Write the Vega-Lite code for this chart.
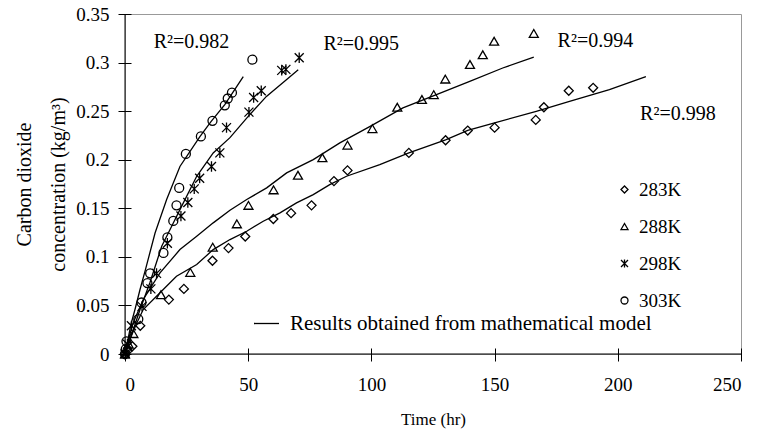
{
  "$schema": "https://vega.github.io/schema/vega-lite/v6.json",
  "width": 616,
  "height": 340,
  "autosize": {"type": "none"},
  "padding": {"left": 125, "top": 14, "right": 17, "bottom": 80},
  "background": "white",
  "config": {
    "font": "Liberation Serif",
    "view": {"stroke": "#999999", "strokeWidth": 1},
    "axis": {
      "grid": false, "domain": false, "tickColor": "black", "tickWidth": 1,
      "labelColor": "black", "titleColor": "black",
      "labelFont": "Liberation Serif", "titleFont": "Liberation Serif",
      "labelFontSize": 19, "titleFontSize": 17, "titleFontWeight": "normal",
      "tickSize": 13, "offset": -6
    },
    "legend": {"labelFont": "Liberation Serif", "labelColor": "black", "labelLimit": 0}
  },
  "datasets": {
    "obs": [
      {"series": "283K", "time": 0, "conc": 0},
      {"series": "283K", "time": 1, "conc": 0.003},
      {"series": "283K", "time": 3, "conc": 0.008},
      {"series": "283K", "time": 6.2, "conc": 0.029},
      {"series": "283K", "time": 17.8, "conc": 0.056},
      {"series": "283K", "time": 23.9, "conc": 0.067},
      {"series": "283K", "time": 35.5, "conc": 0.096},
      {"series": "283K", "time": 42, "conc": 0.109},
      {"series": "283K", "time": 48.8, "conc": 0.121},
      {"series": "283K", "time": 60.2, "conc": 0.139},
      {"series": "283K", "time": 67.4, "conc": 0.145},
      {"series": "283K", "time": 75.7, "conc": 0.153},
      {"series": "283K", "time": 84.8, "conc": 0.178},
      {"series": "283K", "time": 90.3, "conc": 0.189},
      {"series": "283K", "time": 115.2, "conc": 0.207},
      {"series": "283K", "time": 130.1, "conc": 0.22},
      {"series": "283K", "time": 139.1, "conc": 0.23},
      {"series": "283K", "time": 150, "conc": 0.233},
      {"series": "283K", "time": 166.7, "conc": 0.241},
      {"series": "283K", "time": 170, "conc": 0.254},
      {"series": "283K", "time": 180.1, "conc": 0.271},
      {"series": "283K", "time": 190, "conc": 0.274},
      {"series": "288K", "time": 0, "conc": 0},
      {"series": "288K", "time": 1.5, "conc": 0.01},
      {"series": "288K", "time": 3.4, "conc": 0.021},
      {"series": "288K", "time": 14.6, "conc": 0.061},
      {"series": "288K", "time": 26.5, "conc": 0.084},
      {"series": "288K", "time": 35.6, "conc": 0.11},
      {"series": "288K", "time": 45.4, "conc": 0.134},
      {"series": "288K", "time": 50.1, "conc": 0.153},
      {"series": "288K", "time": 60.3, "conc": 0.169},
      {"series": "288K", "time": 70.2, "conc": 0.184},
      {"series": "288K", "time": 80.1, "conc": 0.202},
      {"series": "288K", "time": 90.3, "conc": 0.215},
      {"series": "288K", "time": 100.4, "conc": 0.232},
      {"series": "288K", "time": 110.5, "conc": 0.254},
      {"series": "288K", "time": 120.5, "conc": 0.262},
      {"series": "288K", "time": 125.3, "conc": 0.267},
      {"series": "288K", "time": 130, "conc": 0.283},
      {"series": "288K", "time": 140, "conc": 0.298},
      {"series": "288K", "time": 145.2, "conc": 0.308},
      {"series": "288K", "time": 149.8, "conc": 0.322},
      {"series": "288K", "time": 165.9, "conc": 0.33},
      {"series": "298K", "time": 0, "conc": 0},
      {"series": "298K", "time": 1, "conc": 0.01},
      {"series": "298K", "time": 2.6, "conc": 0.029},
      {"series": "298K", "time": 6.9, "conc": 0.049},
      {"series": "298K", "time": 10.5, "conc": 0.067},
      {"series": "298K", "time": 12.8, "conc": 0.083},
      {"series": "298K", "time": 17.2, "conc": 0.114},
      {"series": "298K", "time": 22.7, "conc": 0.142},
      {"series": "298K", "time": 25.5, "conc": 0.156},
      {"series": "298K", "time": 28.1, "conc": 0.17},
      {"series": "298K", "time": 30.3, "conc": 0.181},
      {"series": "298K", "time": 35.1, "conc": 0.193},
      {"series": "298K", "time": 38.5, "conc": 0.207},
      {"series": "298K", "time": 41.2, "conc": 0.233},
      {"series": "298K", "time": 50.3, "conc": 0.249},
      {"series": "298K", "time": 52.2, "conc": 0.264},
      {"series": "298K", "time": 55.3, "conc": 0.271},
      {"series": "298K", "time": 63.6, "conc": 0.292},
      {"series": "298K", "time": 65.3, "conc": 0.293},
      {"series": "298K", "time": 70.7, "conc": 0.305},
      {"series": "303K", "time": 0, "conc": 0},
      {"series": "303K", "time": 0.3, "conc": 0.005},
      {"series": "303K", "time": 0.6, "conc": 0.013},
      {"series": "303K", "time": 5.4, "conc": 0.036},
      {"series": "303K", "time": 6.7, "conc": 0.053},
      {"series": "303K", "time": 9.1, "conc": 0.073},
      {"series": "303K", "time": 10.2, "conc": 0.083},
      {"series": "303K", "time": 15.6, "conc": 0.104},
      {"series": "303K", "time": 17.2, "conc": 0.12},
      {"series": "303K", "time": 19.6, "conc": 0.137},
      {"series": "303K", "time": 20.9, "conc": 0.153},
      {"series": "303K", "time": 22, "conc": 0.171},
      {"series": "303K", "time": 24.7, "conc": 0.206},
      {"series": "303K", "time": 30.8, "conc": 0.224},
      {"series": "303K", "time": 35.5, "conc": 0.24},
      {"series": "303K", "time": 40.5, "conc": 0.256},
      {"series": "303K", "time": 41.7, "conc": 0.263},
      {"series": "303K", "time": 43.4, "conc": 0.269},
      {"series": "303K", "time": 51.7, "conc": 0.303}
    ],
    "model": [
      {"series": "283K", "time": 0, "conc": 0},
      {"series": "283K", "time": 2.0, "conc": 0.0149},
      {"series": "283K", "time": 4.5, "conc": 0.0303},
      {"series": "283K", "time": 7.4, "conc": 0.0458},
      {"series": "283K", "time": 14.2, "conc": 0.063},
      {"series": "283K", "time": 20.9, "conc": 0.0801},
      {"series": "283K", "time": 29.1, "conc": 0.0921},
      {"series": "283K", "time": 35.8, "conc": 0.1075},
      {"series": "283K", "time": 42.6, "conc": 0.1178},
      {"series": "283K", "time": 49.4, "conc": 0.1264},
      {"series": "283K", "time": 56.1, "conc": 0.1367},
      {"series": "283K", "time": 62.9, "conc": 0.1453},
      {"series": "283K", "time": 69.6, "conc": 0.1556},
      {"series": "283K", "time": 76.4, "conc": 0.1641},
      {"series": "283K", "time": 83.1, "conc": 0.1744},
      {"series": "283K", "time": 89.9, "conc": 0.183},
      {"series": "283K", "time": 103.4, "conc": 0.195},
      {"series": "283K", "time": 115.2, "conc": 0.207},
      {"series": "283K", "time": 130.1, "conc": 0.2204},
      {"series": "283K", "time": 139.1, "conc": 0.2303},
      {"series": "283K", "time": 150, "conc": 0.2379},
      {"series": "283K", "time": 166.9, "conc": 0.2498},
      {"series": "283K", "time": 180.4, "conc": 0.2601},
      {"series": "283K", "time": 196.6, "conc": 0.2721},
      {"series": "283K", "time": 211.4, "conc": 0.2855},
      {"series": "288K", "time": 0, "conc": 0},
      {"series": "288K", "time": 1.2, "conc": 0.0129},
      {"series": "288K", "time": 3.2, "conc": 0.0314},
      {"series": "288K", "time": 7.4, "conc": 0.0561},
      {"series": "288K", "time": 14.2, "conc": 0.0835},
      {"series": "288K", "time": 22.3, "conc": 0.1075},
      {"series": "288K", "time": 29.1, "conc": 0.1213},
      {"series": "288K", "time": 35.8, "conc": 0.135},
      {"series": "288K", "time": 42.6, "conc": 0.148},
      {"series": "288K", "time": 49.4, "conc": 0.159},
      {"series": "288K", "time": 57.5, "conc": 0.171},
      {"series": "288K", "time": 65.6, "conc": 0.1864},
      {"series": "288K", "time": 76.4, "conc": 0.2001},
      {"series": "288K", "time": 87.2, "conc": 0.2173},
      {"series": "288K", "time": 99.3, "conc": 0.234},
      {"series": "288K", "time": 112.8, "conc": 0.2533},
      {"series": "288K", "time": 126.4, "conc": 0.2669},
      {"series": "288K", "time": 139.9, "conc": 0.2806},
      {"series": "288K", "time": 153.3, "conc": 0.2944},
      {"series": "288K", "time": 165.9, "conc": 0.3057},
      {"series": "298K", "time": 0, "conc": 0},
      {"series": "298K", "time": 2.0, "conc": 0.0149},
      {"series": "298K", "time": 6.1, "conc": 0.0458},
      {"series": "298K", "time": 10.1, "conc": 0.0733},
      {"series": "298K", "time": 14.9, "conc": 0.1109},
      {"series": "298K", "time": 19.6, "conc": 0.1349},
      {"series": "298K", "time": 22.3, "conc": 0.1486},
      {"series": "298K", "time": 29.1, "conc": 0.1829},
      {"series": "298K", "time": 35.8, "conc": 0.207},
      {"series": "298K", "time": 42.6, "conc": 0.2227},
      {"series": "298K", "time": 50.0, "conc": 0.2446},
      {"series": "298K", "time": 57.4, "conc": 0.2652},
      {"series": "298K", "time": 65.5, "conc": 0.2824},
      {"series": "298K", "time": 70.3, "conc": 0.2927},
      {"series": "303K", "time": 0, "conc": 0},
      {"series": "303K", "time": 1.2, "conc": 0.0149},
      {"series": "303K", "time": 2.4, "conc": 0.0304},
      {"series": "303K", "time": 4.05, "conc": 0.0458},
      {"series": "303K", "time": 6.1, "conc": 0.0664},
      {"series": "303K", "time": 8.3, "conc": 0.0869},
      {"series": "303K", "time": 12.2, "conc": 0.1245},
      {"series": "303K", "time": 16.9, "conc": 0.159},
      {"series": "303K", "time": 22.3, "conc": 0.193},
      {"series": "303K", "time": 30.4, "conc": 0.2238},
      {"series": "303K", "time": 34.9, "conc": 0.2392},
      {"series": "303K", "time": 40.5, "conc": 0.2567},
      {"series": "303K", "time": 48.0, "conc": 0.2855}
    ],
    "labels": [
      {"label": "R²=0.982", "time": 27.0, "conc": 0.321},
      {"label": "R²=0.995", "time": 95.9, "conc": 0.319},
      {"label": "R²=0.994", "time": 190.9, "conc": 0.322},
      {"label": "R²=0.998", "time": 224.4, "conc": 0.247}
    ]
  },
  "layer": [
    {
      "data": {"name": "model"},
      "transform": [{"calculate": "'Results obtained from mathematical model'", "as": "curve"}],
      "mark": {"type": "line", "strokeWidth": 1.3, "clip": true},
      "encoding": {
        "x": {"field": "time", "type": "quantitative",
              "scale": {"domain": [0, 250], "nice": false},
              "axis": {"values": [0, 50, 100, 150, 200, 250], "labelPadding": 14, "title": "Time (hr)", "titlePadding": 17}},
        "y": {"field": "conc", "type": "quantitative",
              "scale": {"domain": [0, 0.35], "nice": false},
              "axis": {"values": [0, 0.05, 0.1, 0.15, 0.2, 0.25, 0.3, 0.35], "format": ".2~f", "labelPadding": 9,
                       "title": ["Carbon dioxide", "concentration (kg/m³)"], "titleFontSize": 20, "titlePadding": 7, "titleLineHeight": 34}},
        "detail": {"field": "series", "type": "nominal"},
        "stroke": {"field": "curve", "type": "nominal", "scale": {"range": ["black"]},
                   "legend": {"orient": "none", "legendX": 128, "legendY": 296, "title": null,
                              "symbolType": "stroke", "symbolSize": 625, "symbolStrokeWidth": 1.3,
                              "labelFontSize": 21, "labelOffset": 10, "labelLimit": 0}}
      }
    },
    {
      "data": {"name": "obs"},
      "mark": {"type": "point", "filled": false, "stroke": "black", "strokeWidth": 1.3, "size": 81, "opacity": 1},
      "encoding": {
        "x": {"field": "time", "type": "quantitative"},
        "y": {"field": "conc", "type": "quantitative"},
        "shape": {"field": "series", "type": "nominal",
                  "scale": {"domain": ["283K", "288K", "298K", "303K"],
                            "range": ["diamond", "triangle-up", "M0,-1.15L0,1.15M-1,-1L1,1M-1,1L1,-1", "circle"]},
                  "legend": {"orient": "none", "legendX": 490, "legendY": 166, "title": null,
                             "symbolSize": 49, "symbolStrokeColor": "black", "symbolFillColor": "transparent",
                             "symbolStrokeWidth": 1.3, "labelFontSize": 19, "rowPadding": 17, "labelOffset": 5}}
      }
    },
    {
      "data": {"name": "labels"},
      "mark": {"type": "text", "font": "Liberation Serif", "fontSize": 20, "color": "black", "align": "center", "baseline": "middle"},
      "encoding": {
        "x": {"field": "time", "type": "quantitative"},
        "y": {"field": "conc", "type": "quantitative"},
        "text": {"field": "label", "type": "nominal"}
      }
    },
    {
      "data": {"values": [{"v": 0}]},
      "mark": {"type": "rule", "color": "black", "strokeWidth": 1},
      "encoding": {"y": {"field": "v", "type": "quantitative"}}
    },
    {
      "data": {"values": [{"v": 0}]},
      "mark": {"type": "rule", "color": "black", "strokeWidth": 1},
      "encoding": {"x": {"field": "v", "type": "quantitative"}}
    }
  ]
}
